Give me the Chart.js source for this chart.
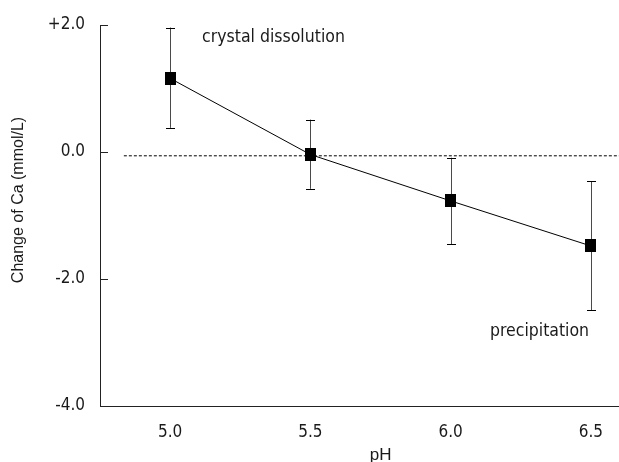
<!DOCTYPE html>
<html>
<head>
<meta charset="utf-8">
<script src="https://cdn.jsdelivr.net/npm/chart.js@4/dist/chart.umd.min.js"></script>
<style>
  html, body { margin: 0; padding: 0; background: #fff; }
  #wrap { width: 619px; height: 462px; }
</style>
</head>
<body>
<div id="wrap"><canvas id="caChart"></canvas></div>
<script>
// pH values and mean change of Ca with error bar limits
const phValues = [5.0, 5.5, 6.0, 6.5];
const caChange = [1.16, -0.04, -0.77, -1.48];
const errHigh = [1.96, 0.51, -0.09, -0.46];
const errLow = [0.38, -0.58, -1.45, -2.49];

// dotted reference line
const refLineX = [4.835, 6.6];
const refLineY = [-0.06, -0.06];

const xTickLabels = ['5.0', '5.5', '6.0', '6.5'];
const yTickValues = [2, 0, -2, -4];
const yTickLabels = ['+2.0', '0.0', '-2.0', '-4.0'];

const notes = [
    { text: 'crystal dissolution', x: 5.114, y: 1.80 },
    { text: 'precipitation', x: 6.14, y: -2.83 }
];

const FONT = 'DejaVu Sans Condensed';
const INK = '#1a1a1a';

// black marker, a bit taller than wide
const marker = document.createElement('canvas');
marker.width = 11; marker.height = 13;
(function () {
    const c = marker.getContext('2d');
    c.fillStyle = '#000';
    c.fillRect(0, 0, 11, 13);
})();

// error bars, inward ticks, axis titles and notes
const extras = {
    id: 'extras',
    beforeDatasetsDraw(chart) {
        const ctx = chart.ctx;
        const xs = chart.scales.x, ys = chart.scales.y;
        ctx.save();
        for (let i = 0; i < phValues.length; i++) {
            const px = Math.round(xs.getPixelForValue(phValues[i])) + 0.5;
            const top = ys.getPixelForValue(errHigh[i]);
            const bot = ys.getPixelForValue(errLow[i]);
            ctx.strokeStyle = '#4a4a4a';
            ctx.lineWidth = 1;
            ctx.beginPath();
            ctx.moveTo(px, top); ctx.lineTo(px, bot);
            ctx.stroke();
            ctx.strokeStyle = '#000';
            ctx.beginPath();
            ctx.moveTo(px - 4.5, Math.round(top) + 0.5); ctx.lineTo(px + 4.5, Math.round(top) + 0.5);
            ctx.moveTo(px - 4.5, Math.round(bot) + 0.5); ctx.lineTo(px + 4.5, Math.round(bot) + 0.5);
            ctx.stroke();
        }
        ctx.restore();
    },
    afterDraw(chart) {
        const ctx = chart.ctx;
        const xs = chart.scales.x, ys = chart.scales.y;
        const area = chart.chartArea;
        ctx.save();
        // ticks pointing into the plot
        ctx.strokeStyle = '#222';
        ctx.lineWidth = 1;
        ctx.beginPath();
        yTickValues.forEach(v => {
            const py = Math.round(ys.getPixelForValue(v)) + 0.5;
            ctx.moveTo(area.left, py); ctx.lineTo(area.left + 8, py);
        });
        ctx.stroke();

        ctx.fillStyle = INK;
        ctx.font = '17.5px "' + FONT + '"';
        ctx.textBaseline = 'middle';
        ctx.textAlign = 'left';
        notes.forEach(n => {
            ctx.fillText(n.text, xs.getPixelForValue(n.x), ys.getPixelForValue(n.y));
        });

        // x title
        ctx.font = '17px "Liberation Sans"';
        ctx.textAlign = 'center';
        ctx.textBaseline = 'alphabetic';
        ctx.fillText('pH', xs.getPixelForValue(5.75), 460);

        // y title
        ctx.font = '16px "Liberation Sans"';
        ctx.textBaseline = 'middle';
        ctx.translate(19, 200);
        ctx.rotate(-Math.PI / 2);
        ctx.fillText('Change of Ca (mmol/L)', 0, 0);
        ctx.restore();
    }
};

new Chart(document.getElementById('caChart'), {
    type: 'scatter',
    data: {
        datasets: [
            {
                data: refLineX.map((x, i) => ({ x: x, y: refLineY[i] })),
                showLine: true,
                borderColor: '#000',
                borderWidth: 1,
                borderDash: [3, 2],
                pointRadius: 0
            },
            {
                data: phValues.map((x, i) => ({ x: x, y: caChange[i] })),
                showLine: true,
                borderColor: '#000',
                borderWidth: 1,
                pointStyle: marker,
                pointRadius: 6
            }
        ]
    },
    options: {
        responsive: true,
        maintainAspectRatio: false,
        animation: false,
        layout: { autoPadding: false, padding: { top: 25, right: 0, left: 0, bottom: 0 } },
        plugins: { legend: { display: false }, tooltip: { enabled: false } },
        scales: {
            x: {
                type: 'linear',
                min: 4.75,
                max: 6.6,
                grid: { display: false, drawTicks: false },
                border: { display: true, color: '#222', width: 1 },
                afterBuildTicks: s => { s.ticks = phValues.map(v => ({ value: v })); },
                afterFit: s => { s.height = 56; s.paddingLeft = 0; s.paddingRight = 0; },
                ticks: {
                    padding: 16,
                    color: INK,
                    font: { family: FONT, size: 17 },
                    maxRotation: 0,
                    autoSkip: false,
                    callback: (v) => xTickLabels[phValues.indexOf(v)]
                }
            },
            y: {
                min: -4,
                max: 2,
                grid: { display: false, drawTicks: false },
                border: { display: true, color: '#222', width: 1 },
                afterBuildTicks: s => { s.ticks = yTickValues.map(v => ({ value: v })); },
                afterFit: s => { s.width = 100; s.paddingTop = 0; s.paddingBottom = 0; },
                ticks: {
                    padding: 15,
                    color: INK,
                    font: { family: FONT, size: 17 },
                    callback: (v) => yTickLabels[yTickValues.indexOf(v)]
                }
            }
        }
    },
    plugins: [extras]
});
</script>
</body>
</html>
